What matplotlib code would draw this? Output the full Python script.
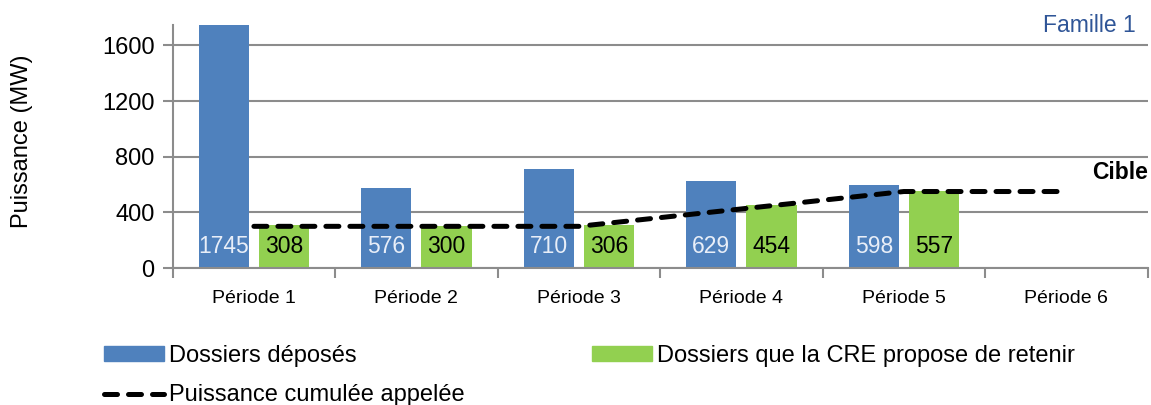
import numpy as np
import matplotlib
matplotlib.use('Agg')
import matplotlib.pyplot as plt
from matplotlib.lines import Line2D
from matplotlib.patches import Patch

# Data
periodes = ['Période 1', 'Période 2', 'Période 3', 'Période 4', 'Période 5', 'Période 6']
deposes = [1745, 576, 710, 629, 598]
retenus = [308, 300, 306, 454, 557]
puissance_appelee = [300, 300, 300, 425, 550, 550]
yticks = [0, 400, 800, 1200, 1600]

blue = '#4F81BD'
green = '#92D050'
grid_gray = '#8C8C8C'
dash = (0, (2.6, 2.2))

plt.rcParams['font.family'] = ['Liberation Sans', 'DejaVu Sans']

fig = plt.figure(figsize=(11.51, 4.05), dpi=100)
ax = fig.add_axes([0.150, 0.338, 0.847, 0.600])

x = np.arange(len(periodes))
xb = np.arange(len(deposes))
w = 0.31
off = 0.185

ax.bar(xb - off, deposes, width=w, color=blue, zorder=2)
ax.bar(xb + off, retenus, width=w, color=green, zorder=2)

# value labels inside the bars
for i in xb:
    ax.text(i - off, 158, str(deposes[i]), ha='center', va='center',
            fontsize=16.5, color='#E8EEF8', zorder=4)
    ax.text(i + off, 158, str(retenus[i]), ha='center', va='center',
            fontsize=16.5, color='black', zorder=4)

ax.plot(x, puissance_appelee, color='black', linewidth=3.6, linestyle=dash,
        dash_capstyle='round', zorder=3)

ax.text(5.5, 690, 'Cible', ha='right', va='center', fontsize=16.5, fontweight='bold')
ax.text(5.43, 1745, 'Famille 1', ha='right', va='center', fontsize=16.5, color='#2F5597')

ax.set_xlim(-0.5, 5.5)
ax.set_ylim(0, 1745)
ax.set_yticks(yticks)
ax.set_xticks(x)
ax.set_xticklabels(periodes)
ax.set_xticks(np.arange(-0.5, 6.0, 1.0), minor=True)
ax.tick_params(axis='x', which='major', length=0, labelsize=14, pad=16)
ax.tick_params(axis='x', which='minor', length=7, width=1.5, color=grid_gray, direction='out')
ax.tick_params(axis='y', length=7, width=1.5, color=grid_gray, labelsize=17, pad=6)
fig.text(0.019, 0.652, 'Puissance (MW)', rotation=90, ha='center', va='center', fontsize=17)

ax.yaxis.grid(True, color=grid_gray, linewidth=1.5, zorder=0)
ax.set_axisbelow(True)
for s in ['top', 'right']:
    ax.spines[s].set_visible(False)
for s in ['left', 'bottom']:
    ax.spines[s].set_color(grid_gray)
    ax.spines[s].set_linewidth(1.5)

handles = [Patch(color=blue),
           Line2D([0], [0], color='black', linewidth=3.6, linestyle=dash, dash_capstyle='round'),
           Patch(color=green)]
labels = ['Dossiers déposés', 'Puissance cumulée appelée', 'Dossiers que la CRE propose de retenir']
fig.legend(handles, labels, loc='upper left', bbox_to_anchor=(0.082, 0.172), ncol=2,
           frameon=False, prop={'size': 17}, handlelength=2.55,
           handleheight=0.55, handletextpad=0.2, columnspacing=5.4, labelspacing=0.75,
           borderaxespad=0)

fig.savefig('out.png', dpi=100)
